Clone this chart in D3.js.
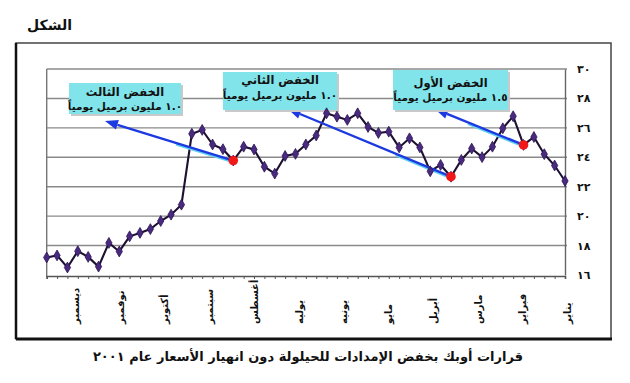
<!DOCTYPE html>
<html><head><meta charset="utf-8">
<script src="https://cdn.jsdelivr.net/npm/d3@7"></script>
<style>body{margin:0;background:#fff}svg{display:block}</style>
</head><body>
<script>
// ---- data ----
const months = ["يناير","فبراير","مارس","أبريل","مايو","يونيه","يوليه","أغسطس","سبتمبر","أكتوبر","نوفمبر","ديسمبر"];
// weekly OPEC basket price, chronological (week 0 = early January)
const weeklyPrice = [22.39,23.44,24.21,25.38,24.84,26.79,25.97,24.72,24.01,24.59,
  23.82,22.68,23.48,23.05,24.67,25.29,24.67,25.74,25.65,26.06,
  26.99,26.54,26.76,26.99,25.48,24.87,24.23,24.09,22.89,23.36,
  24.53,24.72,23.78,24.55,24.87,25.86,25.60,20.78,20.10,19.67,
  19.12,18.86,18.63,17.60,18.18,16.57,17.23,17.62,16.51,17.33,17.19];
const cutWeeks = [4, 11, 32];
const cutTitles = ["الخفض الأول","الخفض الثاني","الخفض الثالث"];
const cutAmounts = ["١.٥ مليون برميل يومياً","١.٠ مليون برميل يومياً","١.٠ مليون برميل يومياً"];
const yTicks = [16,18,20,22,24,26,28,30];
const yTickLabels = ["١٦","١٨","٢٠","٢٢","٢٤","٢٦","٢٨","٣٠"];
const figureTitle = "الشكل";
const caption = "قرارات أوبك بخفض الإمدادات للحيلولة دون انهيار الأسعار عام ٢٠٠١";

// ---- layout ----
const W = 630, H = 383;
const plot = {left: 46.7, right: 565, top: 69, bottom: 275};
const FONT = "'DejaVu Sans', 'Noto Sans', sans-serif";
const boxes = [
  {x: 393, y: 70, w: 115, h: 40, l1: 87, l2: 101, tip: [435, 109]},
  {x: 223, y: 72, w: 114, h: 38, l1: 84, l2: 99, tip: [288, 109]},
  {x: 69,  y: 83, w: 112, h: 31, l1: 96, l2: 110, tip: [105, 121]}
];

const svg = d3.select("body").append("svg").attr("width", W).attr("height", H);

const x = d3.scaleLinear().domain([0, weeklyPrice.length - 1]).range([plot.right, plot.left]);
const y = d3.scaleLinear().domain([16, 30]).range([plot.bottom, plot.top]);
const xm = d3.scalePoint().domain(months).range([567, 75]);

// outer frame
svg.append("rect").attr("x", 16).attr("y", 43).attr("width", 595).attr("height", 296)
  .attr("fill", "none").attr("stroke", "#444").attr("stroke-width", 1.5);
svg.append("line").attr("x1", 16).attr("x2", 612).attr("y1", 339).attr("y2", 339)
  .attr("stroke", "#111").attr("stroke-width", 3);
svg.append("line").attr("x1", 16).attr("x2", 16).attr("y1", 43).attr("y2", 339)
  .attr("stroke", "#111").attr("stroke-width", 2.5);

// title
svg.append("text").attr("x", 72).attr("y", 30).attr("text-anchor", "end")
  .attr("font-family", FONT).attr("font-weight", "bold").attr("font-size", 14)
  .attr("fill", "#111").text(figureTitle);

// gridlines
svg.append("g").selectAll("line").data(yTicks.filter(d => d > 16)).join("line")
  .attr("x1", plot.left).attr("x2", plot.right + 2)
  .attr("y1", d => y(d)).attr("y2", d => y(d))
  .attr("stroke", "#8a8a8a").attr("stroke-width", 1.4);

// left plot border
svg.append("line").attr("x1", plot.left).attr("x2", plot.left)
  .attr("y1", plot.top).attr("y2", plot.bottom + 2).attr("stroke", "#777").attr("stroke-width", 1.4);

// right y axis
const yAxis = d3.axisRight(y).tickValues(yTicks).tickSize(0).tickPadding(12)
  .tickFormat((d, i) => yTickLabels[i]);
const gy = svg.append("g").attr("transform", `translate(${plot.right},0)`).call(yAxis);
gy.select(".domain").attr("stroke", "#666").attr("stroke-width", 1.4);
gy.selectAll("text").attr("font-family", FONT).attr("font-weight", "bold")
  .attr("font-size", 11).attr("fill", "#111");

// bottom x axis (week ticks)
const xAxis = d3.axisBottom(x).tickValues(d3.range(weeklyPrice.length)).tickSize(3).tickFormat("");
const gx = svg.append("g").attr("transform", `translate(0,${plot.bottom + 1})`).call(xAxis);
gx.select(".domain").attr("stroke", "#555").attr("stroke-width", 1.6);
gx.selectAll(".tick line").attr("stroke", "#555");

// month labels (rotated)
svg.append("g").selectAll("text").data(months).join("text")
  .attr("transform", d => `translate(${xm(d) + 4},324) rotate(-90)`)
  .attr("text-anchor", "start")
  .attr("font-family", FONT).attr("font-weight", "bold").attr("font-size", 10)
  .attr("fill", "#111").text(d => d);

// price line
const line = d3.line().x((d, i) => x(i)).y(d => y(d));
svg.append("path").datum(weeklyPrice).attr("d", line)
  .attr("fill", "none").attr("stroke", "#1d1030").attr("stroke-width", 2.1);

// arrows + boxes
cutWeeks.forEach((wk, k) => {
  const b = boxes[k];
  const sx = x(wk), sy = y(weeklyPrice[wk]);
  const [tx, ty] = b.tip;
  const dx = tx - sx, dy = ty - sy, len = Math.hypot(dx, dy);
  const ux = dx / len, uy = dy / len;
  const headL = 13, headW = 5;
  const bx = tx - ux * headL, by = ty - uy * headL;
  svg.append("line").attr("x1", sx).attr("y1", sy + 1.6)
    .attr("x2", sx + ux * 60).attr("y2", sy + uy * 60 + 1.6)
    .attr("stroke", "#5fd0f2").attr("stroke-width", 2.2);
  svg.append("line").attr("x1", sx).attr("y1", sy).attr("x2", bx).attr("y2", by)
    .attr("stroke", "#1c3ae0").attr("stroke-width", 2.4);
  svg.append("path")
    .attr("d", `M${tx},${ty} L${bx - uy * headW},${by + ux * headW} L${bx + uy * headW},${by - ux * headW} Z`)
    .attr("fill", "#1c3ae0");
  svg.append("rect").attr("x", b.x + 2).attr("y", b.y + 2).attr("width", b.w).attr("height", b.h)
    .attr("fill", "#c9c9c9");
  svg.append("rect").attr("x", b.x).attr("y", b.y).attr("width", b.w).attr("height", b.h)
    .attr("fill", "#80e4ea");
  const cx = b.x + b.w / 2;
  svg.append("text").attr("x", cx).attr("y", b.l1).attr("text-anchor", "middle")
    .attr("font-family", FONT).attr("font-weight", "bold").attr("font-size", 11.5)
    .attr("fill", "#111").text(cutTitles[k]);
  svg.append("text").attr("x", cx).attr("y", b.l2).attr("text-anchor", "middle")
    .attr("font-family", FONT).attr("font-weight", "bold").attr("font-size", 10.5)
    .attr("fill", "#111").text(cutAmounts[k]);
});

// diamond markers
const diamond = d3.symbol().type(d3.symbolDiamond).size(34);
svg.append("g").selectAll("path").data(weeklyPrice).join("path")
  .attr("transform", (d, i) => `translate(${x(i)},${y(d)})`)
  .attr("d", diamond)
  .attr("fill", "#4a2a80").attr("stroke", "#2a1550").attr("stroke-width", 0.8);

// red cut points
svg.append("g").selectAll("circle").data(cutWeeks).join("circle")
  .attr("cx", d => x(d)).attr("cy", d => y(weeklyPrice[d])).attr("r", 4.8)
  .attr("fill", "#f01818");

// caption
svg.append("text").attr("x", 308).attr("y", 361).attr("text-anchor", "middle")
  .attr("font-family", FONT).attr("font-weight", "bold").attr("font-size", 13)
  .attr("fill", "#111").text(caption);
</script>
</body></html>
